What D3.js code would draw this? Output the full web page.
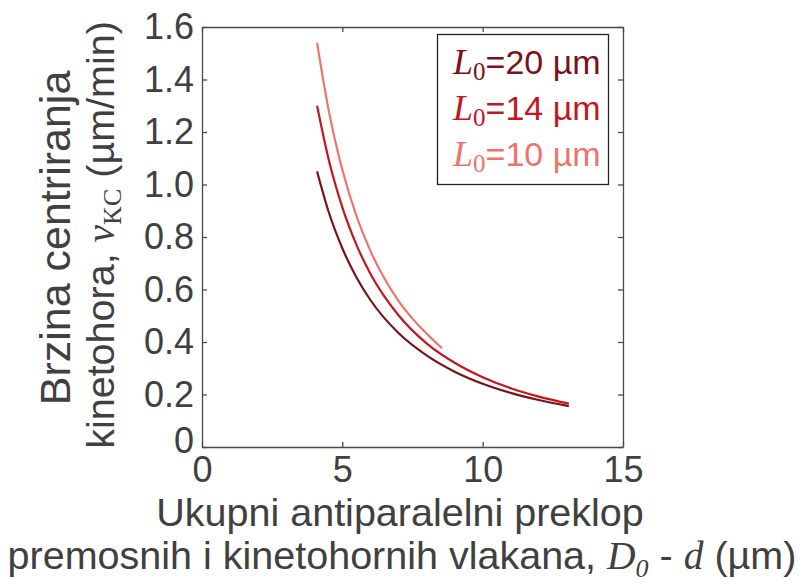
<!DOCTYPE html>
<html>
<head>
<meta charset="utf-8">
<script src="https://cdn.jsdelivr.net/npm/d3@7"></script>
<style>
  html, body { margin: 0; padding: 0; background: #fff; }
  svg { display: block; }
</style>
</head>
<body>
<svg id="chart" width="803" height="587"></svg>
<script>
// ---- data ----
const seriesNames = ["20", "14", "10"];
const seriesColors = ["#7b1216", "#c4161f", "#f0736b"];
const xL20 = [4.1, 4.5, 5, 5.5, 6, 7, 8, 9, 10, 11, 12, 13.07];
const vL20 = [1.05, 0.900, 0.757, 0.647, 0.560, 0.434, 0.349, 0.287, 0.241, 0.206, 0.179, 0.156];
const xL14 = [4.1, 4.5, 5, 5.5, 6, 7, 8, 9, 10, 11, 12, 13.07];
const vL14 = [1.30, 1.101, 0.913, 0.771, 0.660, 0.502, 0.395, 0.321, 0.266, 0.224, 0.192, 0.165];
const xL10 = [4.1, 4.5, 5, 5.5, 6, 6.5, 7, 7.5, 8, 8.55];
const vL10 = [1.54, 1.290, 1.056, 0.881, 0.747, 0.642, 0.557, 0.489, 0.432, 0.376];
const xTicks = [0, 5, 10, 15];
const xTickLabels = ["0", "5", "10", "15"];
const yTicks = [0, 0.2, 0.4, 0.6, 0.8, 1.0, 1.2, 1.4, 1.6];
const yTickLabels = ["0", "0.2", "0.4", "0.6", "0.8", "1.0", "1.2", "1.4", "1.6"];

const series = [
  { name: seriesNames[0], color: seriesColors[0], pts: xL20.map((x, i) => [x, vL20[i]]) },
  { name: seriesNames[1], color: seriesColors[1], pts: xL14.map((x, i) => [x, vL14[i]]) },
  { name: seriesNames[2], color: seriesColors[2], pts: xL10.map((x, i) => [x, vL10[i]]) }
];

const svg = d3.select("#chart");
const axisColor = "#4a4a4a";
const textColor = "#404040";
const sans = "'Liberation Sans', Arial, Helvetica, sans-serif";
const serif = "'Liberation Serif', 'Times New Roman', serif";

const x = d3.scaleLinear().domain([0, 15]).range([202, 623]);
const y = d3.scaleLinear().domain([0, 1.6]).range([447, 27]);

svg.append("rect").attr("width", 803).attr("height", 587).attr("fill", "#fff");

// axes
const gB = svg.append("g").attr("transform", `translate(0,${y(0)})`)
  .call(d3.axisBottom(x).tickValues(xTicks).tickFormat((d, i) => xTickLabels[i])
    .tickSizeInner(-5).tickSizeOuter(0).tickPadding(9));
const gT = svg.append("g").attr("transform", `translate(0,${y(1.6)})`)
  .call(d3.axisTop(x).tickValues(xTicks).tickFormat("")
    .tickSizeInner(-5).tickSizeOuter(0));
const gL = svg.append("g").attr("transform", `translate(${x(0)},0)`)
  .call(d3.axisLeft(y).tickValues(yTicks).tickFormat((d, i) => yTickLabels[i])
    .tickSizeInner(-5).tickSizeOuter(0).tickPadding(8));
const gR = svg.append("g").attr("transform", `translate(${x(15)},0)`)
  .call(d3.axisRight(y).tickValues(yTicks).tickFormat("")
    .tickSizeInner(-5).tickSizeOuter(0));

[gB, gT, gL, gR].forEach(g => {
  g.select(".domain").attr("stroke", axisColor).attr("stroke-width", 1.3);
  g.selectAll(".tick line").attr("stroke", axisColor).attr("stroke-width", 1.3);
  g.selectAll(".tick text").attr("fill", textColor)
    .style("font-family", sans).style("font-size", "36px");
});
// the "0" label on the y axis sits a little higher in the reference
gL.selectAll(".tick text").filter((d, i) => i === 0).attr("dy", "0.15em");

// curves
const line = d3.line().x(d => x(d[0])).y(d => y(d[1])).curve(d3.curveMonotoneX);
svg.append("g").selectAll("path").data(series).join("path")
  .attr("d", d => line(d.pts))
  .attr("fill", "none")
  .attr("stroke", d => d.color)
  .attr("stroke-width", 2.2);

// legend
const lg = svg.append("g");
lg.append("rect").attr("x", 437.5).attr("y", 34.5).attr("width", 171).attr("height", 150)
  .attr("fill", "#fff").attr("stroke", "#222").attr("stroke-width", 1.3);
series.forEach((s, i) => {
  const t = lg.append("text").attr("x", 453).attr("y", 74 + i * 46)
    .attr("fill", s.color).style("font-size", "34px");
  t.append("tspan").style("font-family", serif).style("font-style", "italic").style("font-size", "36px").text("L");
  t.append("tspan").style("font-family", serif).style("font-size", "25px").attr("dy", 6).text("0");
  t.append("tspan").style("font-family", sans).attr("dy", -6).text("=" + s.name + " µm");
});

// x title
const xt = svg.append("g").attr("fill", textColor).style("font-family", sans).style("font-size", "39.5px");
xt.append("text").attr("x", 400).attr("y", 526).attr("text-anchor", "middle").text("Ukupni antiparalelni preklop");
const xt2 = xt.append("text").attr("x", 402).attr("y", 569).attr("text-anchor", "middle");
xt2.append("tspan").text("premosnih i kinetohornih vlakana, ");
xt2.append("tspan").style("font-family", serif).style("font-style", "italic").text("D");
xt2.append("tspan").style("font-family", serif).style("font-style", "italic").style("font-size", "26px").attr("dy", 8).text("0");
xt2.append("tspan").attr("dy", -8).text(" - ");
xt2.append("tspan").style("font-family", serif).style("font-style", "italic").text("d");
xt2.append("tspan").text(" (µm)");

// y title
const yt = svg.append("g").attr("fill", textColor).style("font-family", sans).style("font-size", "39.5px");
yt.append("text").attr("transform", "translate(70,238) rotate(-90)").attr("text-anchor", "middle")
  .style("font-size", "43px")
  .text("Brzina centriranja");
const yt2 = yt.append("text").attr("transform", "translate(114,235) rotate(-90)").attr("text-anchor", "middle");
yt2.append("tspan").text("kinetohora, ");
yt2.append("tspan").style("font-family", serif).style("font-style", "italic").text("v");
yt2.append("tspan").style("font-family", serif).style("font-size", "26px").attr("dy", 7).text("KC");
yt2.append("tspan").attr("dy", -7).text(" (µm/min)");
</script>
</body>
</html>
